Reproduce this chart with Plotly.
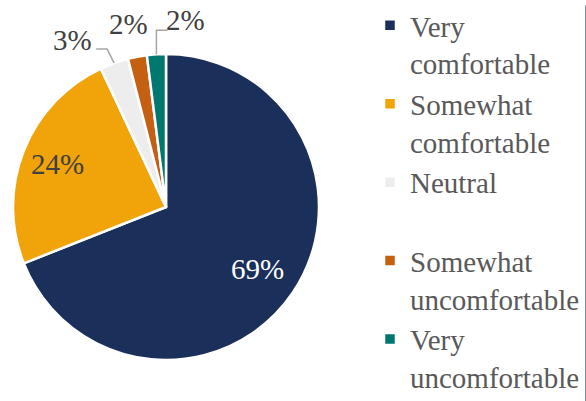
import math
import plotly.graph_objects as go

# Survey responses
categories = ["Very comfortable", "Somewhat comfortable", "Neutral",
              "Somewhat uncomfortable", "Very uncomfortable"]
legend_names = ["Very<br>comfortable", "Somewhat<br>comfortable", "Neutral<br>\u00a0",
                "Somewhat<br>uncomfortable", "Very<br>uncomfortable"]
values = [69, 24, 3, 2, 2]
colors = ["#1B2F5B", "#F1A30A", "#EDEDED", "#C55F11", "#00786F"]

W, H = 586, 401
CX, CY, R = 166, 207, 153          # pie centre / radius in pixels
SERIF = "'Liberation Serif', 'Times New Roman', 'DejaVu Serif', serif"
TXT = "#404040"

fig = go.Figure(go.Pie(
    labels=legend_names,
    values=values,
    marker=dict(colors=colors, line=dict(color="white", width=2.5)),
    sort=False,
    direction="clockwise",
    rotation=0,
    textinfo="none",
    hoverinfo="label+percent",
    domain=dict(x=[(CX - R) / W, (CX + R) / W],
                y=[(H - CY - R) / H, (H - CY + R) / H]),
))


def px(x, y):
    return x / W, 1 - y / H


def slice_point(frac, rf):
    ang = 2 * math.pi * frac
    return CX + rf * R * math.sin(ang), CY - rf * R * math.cos(ang)


total = sum(values)
cum = 0
mids = []
for v in values:
    mids.append((cum + v / 2) / total)
    cum += v


def label(x, y, text, color):
    ax, ay = px(x, y)
    return dict(x=ax, y=ay, xref="paper", yref="paper", text=text,
                showarrow=False, xanchor="center", yanchor="middle",
                font=dict(family=SERIF, size=29, color=color))


annotations = []
# labels inside the two large slices (radial fraction of the radius)
for i, col, rf in [(0, "white", 0.72), (1, TXT, 0.76)]:
    x, y = slice_point(mids[i], rf)
    annotations.append(label(x, y, f"{values[i]}%", col))

# labels outside the small slices (offsets from the slice edge, in px)
outside = {
    2: dict(label=(-42, -23), leader=[(0, 0), (-7, -14), (-18, -14)]),
    3: dict(label=(-9, -33), leader=None),
    4: dict(label=(29, -34), leader=[(0, 0), (0, -24), (11, -24)]),
}
shapes = []
for i, spec in outside.items():
    ex, ey = slice_point(mids[i], 1.0)
    annotations.append(label(ex + spec["label"][0], ey + spec["label"][1],
                             f"{values[i]}%", TXT))
    if spec["leader"]:
        pts = [px(ex + dx, ey + dy) for dx, dy in spec["leader"]]
        path = "M " + " L ".join(f"{a},{b}" for a, b in pts)
        shapes.append(dict(type="path", path=path, xref="paper", yref="paper",
                           line=dict(color="#A6A6A6", width=1.5)))

fig.update_layout(
    width=W, height=H,
    margin=dict(l=0, r=0, t=0, b=0),
    paper_bgcolor="white",
    plot_bgcolor="white",
    annotations=annotations,
    shapes=shapes,
    legend=dict(
        x=370 / W, y=1 - 8 / H, xanchor="left", yanchor="top",
        font=dict(family=SERIF, size=29, color="#595959"),
        valign="top",
        traceorder="normal",
        tracegroupgap=0,
        bgcolor="rgba(0,0,0,0)",
    ),
    showlegend=True,
)

fig.write_html("out.html")
